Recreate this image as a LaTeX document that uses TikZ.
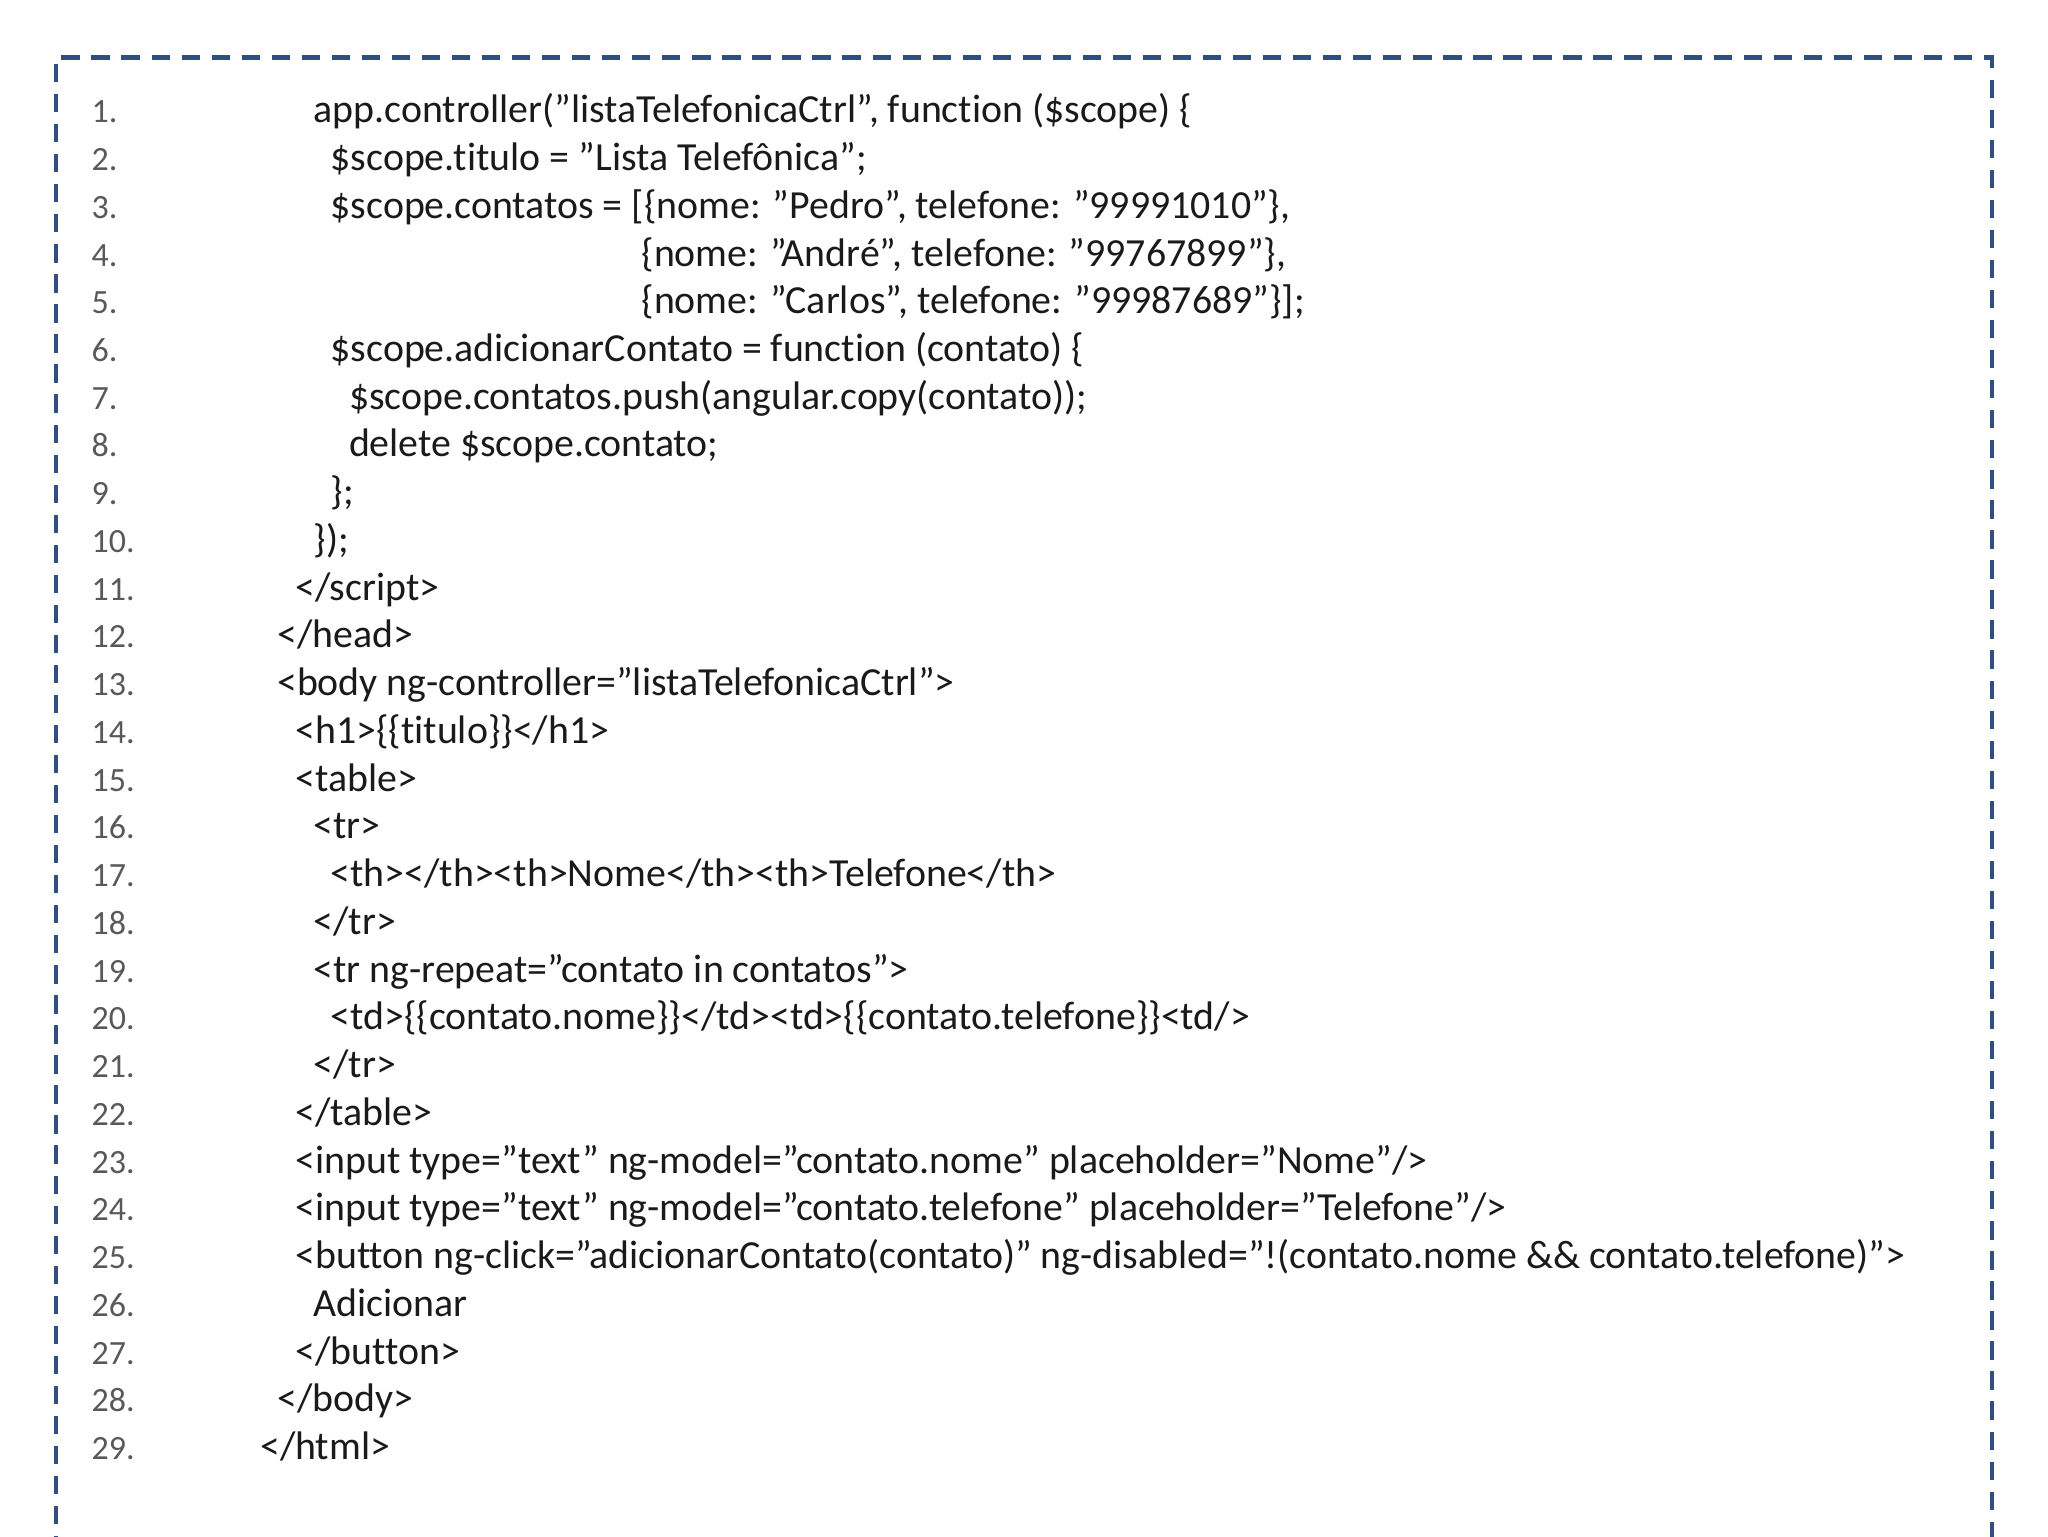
\documentclass[tikz,border=0pt]{standalone}
\usepackage{fontspec}
\defaultfontfeatures{}
\setmainfont{Carlito}[Ligatures={NoCommon}]
\definecolor{frame}{HTML}{2E4F7F}
\definecolor{numc}{HTML}{595959}
\definecolor{codec}{HTML}{1A1A1A}
\tikzset{code/.style={anchor=base west,inner sep=0pt,text=codec,font=\fontsize{30.5}{34}\selectfont},
num/.style={anchor=base west,inner sep=0pt,text=numc,font=\fontsize{26}{30}\selectfont}}
\begin{document}
\begin{tikzpicture}[x=1pt,y=-1pt]
\useasboundingbox (0,0) rectangle (1568,1176);
\fill[white] (0,0) rectangle (1568,1176);
\draw[frame,line width=3.5pt,dash pattern=on 14pt off 9pt] (43,1190) -- (43,44) -- (1525,44) -- (1525,1190);
\foreach \i/\x/\t in {
1/240/{app.controller("listaTelefonicaCtrl", function (\$scope) \{},
2/253/{\$scope.titulo = "Lista Telefônica";},
3/253/{\$scope.contatos = [\{nome: "Pedro", telefone: "99991010"\},},
4/491/{\{nome: "André", telefone: "99767899"\},},
5/491/{\{nome: "Carlos", telefone: "99987689"\}];},
6/253/{\$scope.adicionarContato = function (contato) \{},
7/267/{\$scope.contatos.push(angular.copy(contato));},
8/267/{delete \$scope.contato;},
9/253/{\};},
10/240/{\});},
11/226/{</script>},
12/212/{</head>},
13/212/{<body ng-controller="listaTelefonicaCtrl">},
14/226/{<h1>\{\{titulo\}\}</h1>},
15/226/{<table>},
16/240/{<tr>},
17/253/{<th></th><th>Nome</th><th>Telefone</th>},
18/240/{</tr>},
19/240/{<tr ng-repeat="contato in contatos">},
20/253/{<td>\{\{contato.nome\}\}</td><td>\{\{contato.telefone\}\}<td/>},
21/240/{</tr>},
22/226/{</table>},
23/226/{<input type="text" ng-model="contato.nome" placeholder="Nome"/>},
24/226/{<input type="text" ng-model="contato.telefone" placeholder="Telefone"/>},
25/226/{<button ng-click="adicionarContato(contato)" ng-disabled="!(contato.nome \&\& contato.telefone)">},
26/240/{Adicionar},
27/226/{</button>},
28/212/{</body>},
29/199/{</html>}}{
\pgfmathsetmacro{\yy}{94+(\i-1)*36.55}
\node[num] (n\i) at (70,\yy) {\i.};
\node[code] (l\i) at (\x,\yy) {\t};
}
\end{tikzpicture}
\end{document}
